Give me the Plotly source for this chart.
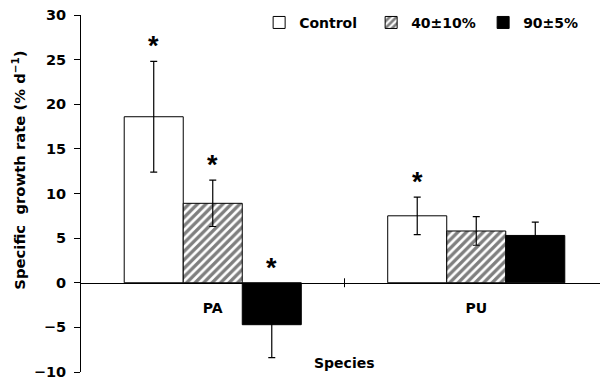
import plotly.graph_objects as go

species = ["PA", "PU"]
series_names = ["Control", "40±10%", "90±5%"]
values = {
    "Control": [18.6, 7.5],
    "40±10%": [8.9, 5.8],
    "90±5%": [-4.7, 5.3],
}
errors = {
    "Control": [6.2, 2.1],
    "40±10%": [2.6, 1.6],
    "90±5%": [3.7, 1.5],
}
significant = {
    "Control": [True, True],
    "40±10%": [True, False],
    "90±5%": [True, False],
}
y_ticks = [-10, -5, 0, 5, 10, 15, 20, 25, 30]

FONT = "'DejaVu Sans', sans-serif"
STAR_FONT = "'Liberation Sans', Arial, sans-serif"
bargap = 0.328
bw = (1 - bargap) / 3

styles = {
    "Control": dict(color="white", pattern=None),
    "40±10%": dict(color="white", pattern=dict(shape="/", fgcolor="black", bgcolor="white", size=6, solidity=0.55)),
    "90±5%": dict(color="black", pattern=None),
}

fig = go.Figure()
for name in series_names:
    st = styles[name]
    marker = dict(color=st["color"], line=dict(color="black", width=1))
    if st["pattern"]:
        marker["pattern"] = st["pattern"]
    fig.add_trace(go.Bar(
        name=name, x=species, y=values[name], marker=marker,
        error_y=dict(type="data", array=errors[name], color="black", thickness=1.2, width=3.5),
    ))

for j, name in enumerate(series_names):
    for i, sp in enumerate(species):
        if significant[name][i]:
            top = max(values[name][i] + errors[name][i], 0)
            fig.add_annotation(x=i + (j - 1) * bw, y=top, xref="x", yref="y",
                               text="*", showarrow=False, yanchor="middle", yshift=15,
                               font=dict(family=STAR_FONT, size=27, color="black", weight="bold"))

# category divider tick on x axis
fig.add_shape(type="line", xref="x", yref="y", x0=0.5, x1=0.5, y0=-0.5, y1=0.5,
              line=dict(color="black", width=1))

fig.add_annotation(text="Species", xref="x", yref="y", x=0.5, y=-9.0, showarrow=False,
                   font=dict(family=FONT, size=14, color="black", weight="bold"))

# y-axis title
fig.add_annotation(text="Specific  growth rate (% d<sup>−1</sup>)", textangle=-90,
                   xref="paper", yref="paper", x=-0.118, y=0.566,
                   xanchor="center", yanchor="middle", showarrow=False,
                   font=dict(family=FONT, size=14.8, color="black", weight="bold"))

fig.update_layout(
    width=600, height=371,
    margin=dict(l=73, r=0, t=7, b=7, autoexpand=False),
    plot_bgcolor="white", paper_bgcolor="white",
    barmode="group", bargap=bargap, bargroupgap=0,
    font=dict(family=FONT, size=14, color="black", weight="bold"),
    legend=dict(orientation="h", x=0.338, y=0.978, xanchor="left", yanchor="middle",
                font=dict(family=FONT, size=14, color="black", weight="bold"),
                entrywidth=67, itemwidth=30, bgcolor="rgba(0,0,0,0)"),
    xaxis=dict(anchor="free", position=0.25, showline=True, linecolor="black", linewidth=1,
               ticks="", showgrid=False, ticklabelstandoff=12, automargin=False,
               tickfont=dict(family=FONT, size=14, color="black", weight="bold"),
               range=[-0.5, 1.5]),
    yaxis=dict(range=[-10, 30], tickvals=y_ticks, showline=True, linecolor="black", linewidth=1,
               ticks="outside", ticklen=6, tickcolor="black", showgrid=False, zeroline=False,
               automargin=False, ticklabeloverflow="allow", ticklabelstandoff=5,
               tickfont=dict(family=FONT, size=14.5, color="black", weight="bold")),
    yaxis2=dict(overlaying="y", matches="y", side="left", tickvals=y_ticks, ticks="inside",
                ticklen=6, tickcolor="black", showticklabels=False, showgrid=False,
                zeroline=False, showline=False, automargin=False),
)

fig.write_html("out.html")
